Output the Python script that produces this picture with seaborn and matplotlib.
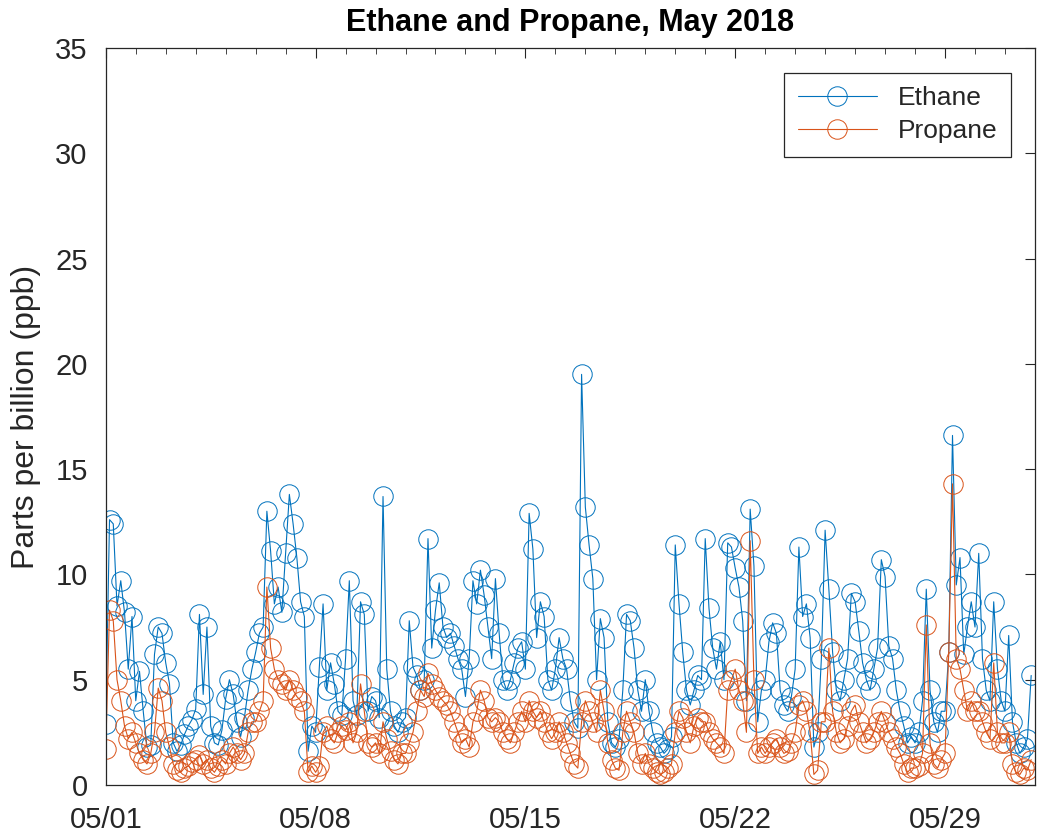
import numpy as np
import pandas as pd
import matplotlib
matplotlib.use("Agg")
import matplotlib.pyplot as plt
import matplotlib.dates as mdates
import seaborn as sns

# 3-hourly readings, May 1 - May 31 2018 (8 values per day)
ethane = [
    2.9, 12.6, 12.4, 8.5, 9.7, 8.2, 5.5, 8.0,
    4.0, 5.4, 3.5, 1.8, 1.9, 6.2, 7.5, 7.2,
    5.8, 4.8, 2.0, 1.6, 1.9, 2.4, 2.8, 3.1,
    3.6, 8.1, 4.3, 7.5, 2.8, 2.0, 1.9, 2.6,
    4.1, 5.0, 4.3, 3.0, 2.3, 3.2, 4.5, 5.5,
    6.3, 7.2, 7.5, 13.0, 11.1, 8.6, 9.4, 8.2,
    11.0, 13.8, 12.4, 10.8, 8.7, 8.0, 1.6, 2.8,
    2.5, 5.6, 8.6, 4.5, 5.8, 4.8, 3.5, 3.3,
    6.0, 9.7, 4.0, 3.3, 8.7, 8.1, 3.5, 4.2,
    4.0, 3.2, 13.7, 5.5, 3.5, 2.8, 2.5, 3.0,
    3.2, 7.8, 5.6, 5.2, 4.5, 5.0, 11.7, 6.5,
    8.3, 9.6, 7.5, 7.0, 7.2, 6.6, 6.0, 5.5,
    4.2, 6.0, 9.7, 8.6, 10.2, 9.0, 7.5, 6.0,
    9.8, 7.2, 5.0, 4.5, 5.0, 5.8, 6.5, 6.8,
    5.5, 12.9, 11.2, 7.0, 8.7, 8.0, 5.0, 4.5,
    5.5, 7.0, 6.0, 5.5, 4.0, 3.0, 2.7, 19.5,
    13.2, 11.4, 9.8, 5.0, 7.9, 7.0, 3.0, 2.0,
    1.8, 2.2, 4.5, 8.1, 7.8, 6.5, 4.5, 3.5,
    5.0, 3.5, 2.5, 2.0, 1.8, 1.5, 1.7, 2.3,
    11.4, 8.6, 6.3, 4.5, 3.8, 4.5, 5.2, 5.0,
    11.7, 8.4, 6.5, 5.5, 6.8, 5.0, 11.5, 11.3,
    10.3, 9.4, 7.8, 4.0, 13.1, 10.4, 3.0, 4.5,
    5.0, 6.8, 7.7, 7.2, 4.5, 3.8, 3.5, 4.2,
    5.5, 11.3, 8.0, 8.6, 7.0, 1.8, 2.5, 6.0,
    12.1, 9.3, 6.3, 4.5, 4.0, 5.0, 6.0, 9.1,
    8.7, 7.3, 5.8, 5.0, 4.5, 5.5, 6.5, 10.7,
    9.9, 6.6, 6.0, 4.5, 3.5, 2.8, 2.0, 2.3,
    2.0, 2.5, 4.0, 9.3, 4.5, 3.0, 2.5, 3.5,
    3.5, 6.3, 16.6, 9.5, 10.8, 6.2, 7.5, 8.7,
    7.5, 11.0, 6.0, 4.5, 4.0, 8.7, 5.5, 4.0,
    3.5, 7.1, 3.0, 2.0, 1.5, 1.8, 2.2, 5.2,
]
propane = [
    1.7, 8.3, 7.8, 5.0, 4.0, 2.8, 2.2, 2.5,
    2.0, 1.5, 1.2, 1.0, 1.5, 2.5, 4.6, 4.0,
    2.5, 1.8, 1.0, 0.7, 0.6, 0.8, 0.9, 1.1,
    1.2, 1.4, 1.0, 1.2, 0.8, 0.6, 0.9, 1.2,
    1.0, 1.5, 1.8, 1.5, 1.2, 1.5, 2.5, 3.0,
    3.0, 3.5, 4.0, 9.4, 6.5, 5.5, 5.0, 4.8,
    4.5, 5.0, 4.5, 4.2, 4.0, 3.5, 0.6, 0.9,
    0.6, 0.9, 2.5, 2.8, 2.2, 2.0, 2.5, 2.8,
    2.6, 3.0, 2.0, 2.5, 4.8, 3.5, 2.0, 1.8,
    2.0, 1.5, 3.0, 2.2, 1.6, 1.2, 1.0, 1.5,
    1.5, 2.0, 2.5, 3.5, 4.5, 4.2, 5.3, 4.8,
    4.5, 4.2, 4.0, 3.8, 3.5, 3.0, 2.5, 2.0,
    2.2, 1.8, 3.0, 3.5, 4.5, 4.0, 3.2, 3.0,
    3.2, 3.0, 2.5, 2.2, 2.0, 2.5, 3.0, 3.5,
    3.0, 4.0, 3.5, 3.2, 3.5, 3.0, 2.5, 2.2,
    2.5, 3.0, 2.5, 2.0, 1.5, 1.0, 0.8, 3.0,
    4.0, 3.5, 3.0, 2.5, 4.5, 3.5, 2.0, 1.2,
    0.8, 0.7, 2.5, 3.5, 3.0, 2.5, 1.5, 1.0,
    1.5, 1.0, 0.8, 0.6, 0.5, 0.6, 0.8, 1.0,
    2.5, 3.5, 3.2, 2.5, 2.0, 2.8, 3.2, 3.0,
    3.0, 2.5, 2.2, 2.0, 1.8, 1.5, 4.5, 5.0,
    5.5, 4.5, 4.0, 2.5, 11.6, 5.0, 1.5, 1.8,
    1.5, 1.8, 2.0, 2.2, 1.8, 1.5, 1.6, 2.0,
    2.5, 3.8, 4.0, 3.5, 2.5, 0.5, 0.7, 3.0,
    3.0, 6.5, 3.5, 2.5, 2.0, 2.2, 2.8, 3.5,
    3.8, 3.0, 2.5, 2.0, 2.2, 2.5, 3.0, 3.5,
    3.0, 2.5, 2.2, 1.8, 1.5, 1.0, 0.6, 0.8,
    0.8, 0.9, 1.5, 7.6, 2.0, 1.0, 0.8, 1.2,
    1.5, 6.3, 14.3, 6.0, 5.5, 4.5, 3.5, 4.0,
    3.5, 3.5, 3.0, 2.5, 2.2, 5.8, 2.5, 2.0,
    2.0, 2.5, 1.0, 0.6, 0.5, 0.8, 0.7, 1.2,
]
series_names = ["Ethane", "Propane"]
major_ticks = ["2018-05-01", "2018-05-08", "2018-05-15", "2018-05-22", "2018-05-29"]
y_ticks = [0, 5, 10, 15, 20, 25, 30, 35]

times = pd.date_range("2018-05-01 00:00", periods=len(ethane), freq="3h")
df = pd.DataFrame({"time": times, "Ethane": ethane, "Propane": propane})

sns.set_style("white")
plt.rcParams["font.family"] = ["Liberation Sans", "DejaVu Sans"]

fig = plt.figure(figsize=(10.37, 8.39), dpi=100)
ax = fig.add_axes([0.102, 0.0644, 0.896, 0.8784])

colors = {"Ethane": "#0072BD", "Propane": "#D95319"}
for name in series_names:
    sns.lineplot(data=df, x="time", y=name, ax=ax, color=colors[name],
                 marker="o", markersize=14, markerfacecolor="none",
                 markeredgecolor=colors[name], markeredgewidth=0.7,
                 linewidth=0.8, label=name)

ax.set_xlim(pd.Timestamp("2018-05-01"), pd.Timestamp("2018-06-01"))
ax.set_ylim(0, 35)
ax.set_yticks(y_ticks)
ax.set_xticks([pd.Timestamp(t) for t in major_ticks])
ax.xaxis.set_major_formatter(mdates.DateFormatter("%m/%d"))
ax.xaxis.set_minor_locator(mdates.DayLocator())

ax.tick_params(axis="both", which="both", direction="in", top=True, right=True,
               colors="#262626", labelsize=21)
ax.tick_params(axis="x", which="major", length=7, width=0.8, pad=15)
ax.tick_params(axis="y", which="major", length=7, width=0.8, pad=13)
ax.tick_params(axis="both", which="minor", length=4, width=0.6)
for s in ax.spines.values():
    s.set_color("#262626")
    s.set_linewidth(0.9)

ax.set_xlabel("")
ax.set_ylabel("Parts per billion (ppb)", fontsize=23, color="#262626", labelpad=10)
ax.set_title("Ethane and Propane, May 2018", fontsize=22, fontweight="bold",
             color="#000000", pad=12)

leg = ax.legend(loc="upper right", bbox_to_anchor=(0.974, 0.966), borderaxespad=0,
                fontsize=19, frameon=True, fancybox=False, edgecolor="#262626",
                framealpha=1, handlelength=3.0, borderpad=0.5, labelspacing=0.35)
leg.get_frame().set_linewidth(0.9)

fig.savefig("out.png", dpi=100, facecolor="white")
